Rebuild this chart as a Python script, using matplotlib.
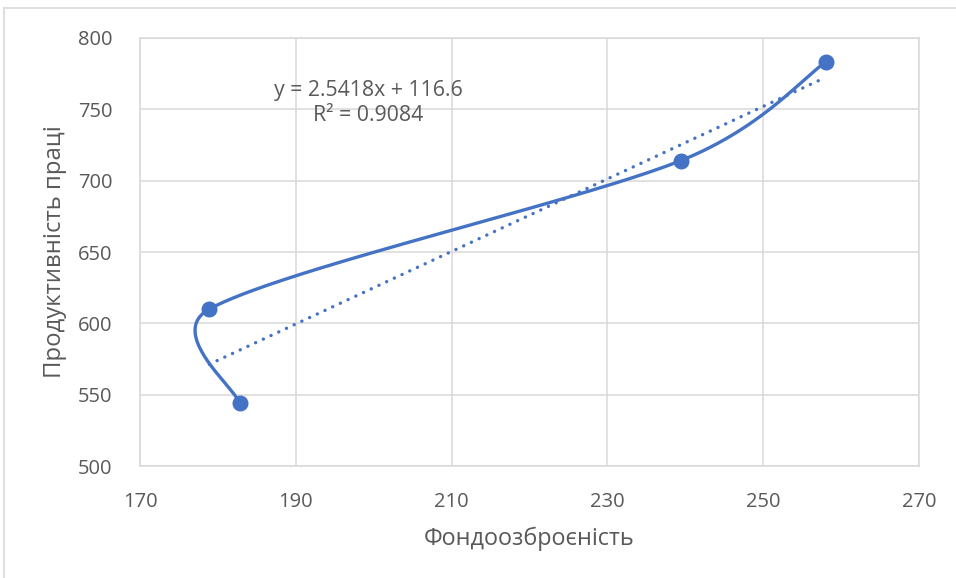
import numpy as np
import matplotlib
matplotlib.use("Agg")
import matplotlib.pyplot as plt
from matplotlib.lines import Line2D

# ---- data ----
fondo = [182.8, 178.9, 239.4, 258.0]          # Фондоозброєність
prod = [544, 610, 714, 783]                   # Продуктивність праці
trend_slope = 2.5418
trend_intercept = 116.6
r_squared = 0.9084
x_ticks = [170, 190, 210, 230, 250, 270]
y_ticks = [500, 550, 600, 650, 700, 750, 800]
x_label = "Фондоозброєність"
y_label = "Продуктивність праці"

plt.rcParams['font.family'] = ['Open Sans', 'DejaVu Sans']
BLUE = "#4472C4"
TXT = "#595959"
GRID = "#D9D9D9"

W, H = 956, 578
fig = plt.figure(figsize=(W / 100, H / 100), dpi=100)
fig.patch.set_facecolor("white")
ax = fig.add_axes([140 / W, 1 - 466 / H, (919 - 140) / W, (466 - 38) / H])
ax.set_xlim(x_ticks[0], x_ticks[-1])
ax.set_ylim(y_ticks[0], y_ticks[-1])
ax.set_xticks(x_ticks)
ax.set_yticks(y_ticks)
ax.grid(True, color=GRID, lw=1.1, zorder=0)
for s in ax.spines.values():
    s.set_color(GRID)
    s.set_linewidth(1.1)
ax.tick_params(length=0, labelsize=14.5, labelcolor=TXT)
ax.tick_params(axis='x', pad=19)
ax.tick_params(axis='y', pad=20)
ax.set_xlabel(x_label, fontsize=16.8, color=TXT, labelpad=10)
ax.set_ylabel(y_label, fontsize=17.2, color=TXT, labelpad=8)

# ---- Excel-like smoothed line (Bezier through points, in display space) ----
P = ax.transData.transform(np.column_stack([fondo, prod]))
n = len(P)
T = []
for i in range(n):
    a = P[max(i - 1, 0)]
    b = P[min(i + 1, n - 1)]
    T.append((b - a) / 6.0)
curve = []
for i in range(n - 1):
    p0, p3 = P[i], P[i + 1]
    d = np.linalg.norm(p3 - p0)
    t0, t1 = T[i].copy(), T[i + 1].copy()
    cap = 0.5 * d
    if np.linalg.norm(t0) > cap:
        t0 *= cap / np.linalg.norm(t0)
    if np.linalg.norm(t1) > cap:
        t1 *= cap / np.linalg.norm(t1)
    c1, c2 = p0 + t0, p3 - t1
    t = np.linspace(0, 1, 80)[:, None]
    seg = ((1 - t) ** 3) * p0 + 3 * ((1 - t) ** 2) * t * c1 + 3 * (1 - t) * t ** 2 * c2 + t ** 3 * p3
    curve.append(seg if i == 0 else seg[1:])
curve = np.vstack(curve)
cd = ax.transData.inverted().transform(curve)
ax.plot(cd[:, 0], cd[:, 1], color=BLUE, lw=2.4, zorder=3, solid_capstyle='round')
ax.plot(fondo, prod, 'o', color=BLUE, ms=10.5, zorder=4)

# ---- linear trendline ----
tx = np.array([min(fondo), max(fondo)])
ty = trend_slope * tx + trend_intercept
ax.plot(tx, ty, color=BLUE, lw=2.4, linestyle=(0, (0.05, 2.5)),
        dash_capstyle='round', zorder=2)
ax.text(199.3, 754.5, f"y = {trend_slope}x + {trend_intercept}\nR² = {r_squared}",
        ha='center', va='center', fontsize=15.3, color=TXT, linespacing=1.2)

# ---- outer chart border ----
fig.add_artist(Line2D([4 / W, 4 / W], [0, 1 - 8 / H], color=GRID, lw=1.2))
fig.add_artist(Line2D([4 / W, 1], [1 - 8 / H, 1 - 8 / H], color=GRID, lw=1.2))

fig.savefig("out.png", dpi=100)
